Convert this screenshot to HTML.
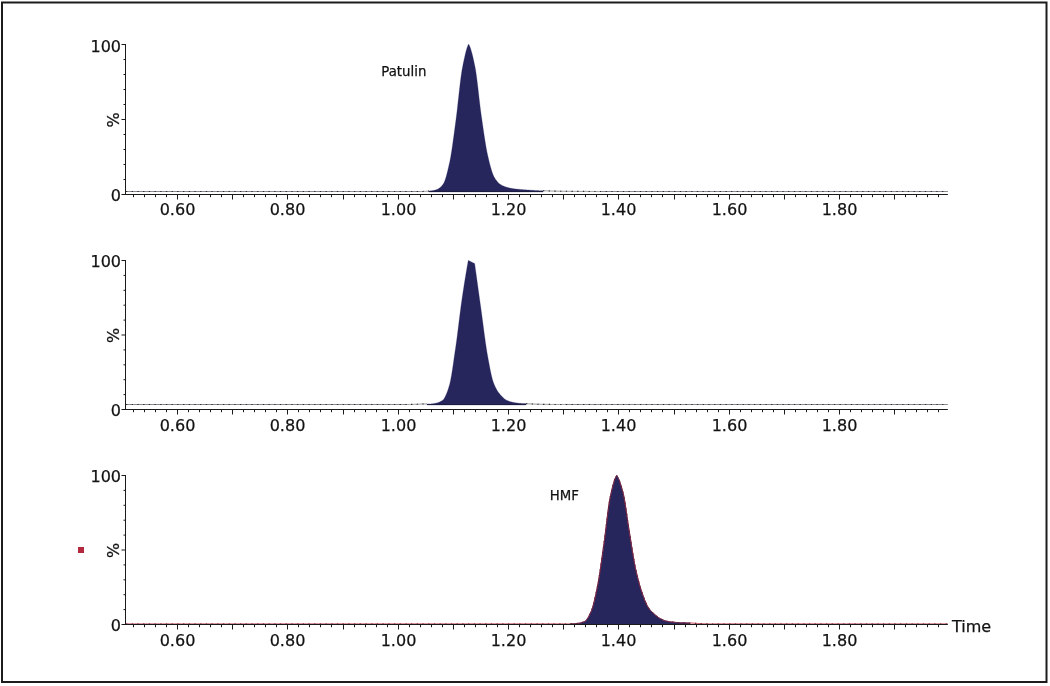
<!DOCTYPE html>
<html><head><meta charset="utf-8"><title>Chromatogram</title>
<style>
html,body{margin:0;padding:0;background:#fff;width:1050px;height:686px;overflow:hidden}
svg{display:block}
text{font-family:"DejaVu Sans","Liberation Sans",sans-serif;fill:#111;stroke:#111;stroke-width:0.25px}
.ax{font-size:16px}
.lb{font-size:13.3px}
</style></head><body>
<svg width="1050" height="686" viewBox="0 0 1050 686">
<rect x="2" y="2.5" width="1044.5" height="679.5" fill="none" stroke="#1c1c1c" stroke-width="2"/>
<polyline points="126,191.5 420,191.49 420.5,191.48 421,191.47 421.5,191.46 422,191.45 422.5,191.44 423,191.43 423.5,191.42 424,191.41 424.5,191.39 425,191.37 425.5,191.35 426,191.32 426.5,191.28 427,191.24 427.5,191.2 428,191.15 428.5,191.1 429,191.04" fill="none" stroke="#8a8a8e" stroke-width="1"/>
<polyline points="126,191.5 420,191.49 420.5,191.48 421,191.47 421.5,191.46 422,191.45 422.5,191.44 423,191.43 423.5,191.42 424,191.41 424.5,191.39 425,191.37 425.5,191.35 426,191.32 426.5,191.28 427,191.24 427.5,191.2 428,191.15 428.5,191.1 429,191.04" fill="none" stroke="#2e2e36" stroke-width="1.1" stroke-dasharray="1.3 4.4"/>
<polyline points="543,190.73 543.5,190.74 544,190.75 544.5,190.77 545,190.78 545.5,190.8 546,190.82 546.5,190.84 547,190.87 547.5,190.89 548,190.92 548.5,190.94 549,190.97 549.5,190.99 550,191.01 550.5,191.03 551,191.05 551.5,191.06 552,191.08 552.5,191.09 553,191.1 553.5,191.11 554,191.12 554.5,191.13 555,191.14 555.5,191.15 556,191.16 556.5,191.17 557,191.18 557.5,191.18 558,191.19 558.5,191.2 559,191.21 559.5,191.22 560,191.22 560.5,191.23 561,191.24 561.5,191.24 562,191.25 562.5,191.26 563,191.26 563.5,191.27 564,191.27 564.5,191.28 565,191.29 565.5,191.29 566,191.3 566.5,191.3 567,191.31 567.5,191.31 568,191.32 568.5,191.32 569,191.33 569.5,191.33 570,191.33 570.5,191.34 571,191.34 571.5,191.35 572,191.35 572.5,191.35 573,191.36 573.5,191.36 574,191.36 574.5,191.37 575,191.37 575.5,191.37 576,191.38 576.5,191.38 577,191.38 577.5,191.39 578,191.39 578.5,191.39 579,191.39 579.5,191.4 580,191.4 580.5,191.4 581,191.4 581.5,191.41 582,191.41 582.5,191.41 583,191.41 583.5,191.41 584,191.42 584.5,191.42 585,191.42 585.5,191.42 586,191.42 586.5,191.43 587,191.43 587.5,191.43 588,191.43 588.5,191.43 589,191.43 589.5,191.44 590,191.44 590.5,191.44 591,191.44 591.5,191.44 592,191.44 592.5,191.44 593,191.45 593.5,191.45 594,191.45 594.5,191.45 595,191.45 595.5,191.45 596,191.45 596.5,191.46 597,191.46 597.5,191.46 598,191.46 598.5,191.46 599,191.46 599.5,191.46 600,191.46 600.5,191.46 601,191.47 601.5,191.47 602,191.5 947.8,191.5" fill="none" stroke="#8a8a8e" stroke-width="1"/>
<polyline points="543,190.73 543.5,190.74 544,190.75 544.5,190.77 545,190.78 545.5,190.8 546,190.82 546.5,190.84 547,190.87 547.5,190.89 548,190.92 548.5,190.94 549,190.97 549.5,190.99 550,191.01 550.5,191.03 551,191.05 551.5,191.06 552,191.08 552.5,191.09 553,191.1 553.5,191.11 554,191.12 554.5,191.13 555,191.14 555.5,191.15 556,191.16 556.5,191.17 557,191.18 557.5,191.18 558,191.19 558.5,191.2 559,191.21 559.5,191.22 560,191.22 560.5,191.23 561,191.24 561.5,191.24 562,191.25 562.5,191.26 563,191.26 563.5,191.27 564,191.27 564.5,191.28 565,191.29 565.5,191.29 566,191.3 566.5,191.3 567,191.31 567.5,191.31 568,191.32 568.5,191.32 569,191.33 569.5,191.33 570,191.33 570.5,191.34 571,191.34 571.5,191.35 572,191.35 572.5,191.35 573,191.36 573.5,191.36 574,191.36 574.5,191.37 575,191.37 575.5,191.37 576,191.38 576.5,191.38 577,191.38 577.5,191.39 578,191.39 578.5,191.39 579,191.39 579.5,191.4 580,191.4 580.5,191.4 581,191.4 581.5,191.41 582,191.41 582.5,191.41 583,191.41 583.5,191.41 584,191.42 584.5,191.42 585,191.42 585.5,191.42 586,191.42 586.5,191.43 587,191.43 587.5,191.43 588,191.43 588.5,191.43 589,191.43 589.5,191.44 590,191.44 590.5,191.44 591,191.44 591.5,191.44 592,191.44 592.5,191.44 593,191.45 593.5,191.45 594,191.45 594.5,191.45 595,191.45 595.5,191.45 596,191.45 596.5,191.46 597,191.46 597.5,191.46 598,191.46 598.5,191.46 599,191.46 599.5,191.46 600,191.46 600.5,191.46 601,191.47 601.5,191.47 602,191.5 947.8,191.5" fill="none" stroke="#2e2e36" stroke-width="1.1" stroke-dasharray="1.3 4.4"/>
<polygon points="429,192 429,191.04 429.5,190.98 430,190.92 430.5,190.86 431,190.8 431.5,190.73 432,190.66 432.5,190.57 433,190.48 433.5,190.39 434,190.28 434.5,190.16 435,190.04 435.5,189.9 436,189.76 436.5,189.6 437,189.43 437.5,189.22 438,188.98 438.5,188.69 439,188.37 439.5,188 440,187.6 440.5,187.15 441,186.67 441.5,186.14 442,185.58 442.5,184.98 443,184.33 443.5,183.61 444,182.69 444.5,181.57 445,180.26 445.5,178.78 446,177.15 446.5,175.39 447,173.51 447.5,171.52 448,169.45 448.5,167.31 449,165.12 449.5,162.89 450,160.54 450.5,157.91 451,155.04 451.5,151.96 452,148.7 452.5,145.28 453,141.73 453.5,138.09 454,134.39 454.5,130.64 455,126.89 455.5,123.15 456,119.46 456.5,115.57 457,111.42 457.5,107.07 458,102.58 458.5,98.03 459,93.49 459.5,89.02 460,84.69 460.5,80.56 461,76.71 461.5,73.2 462,70.1 462.5,67.42 463,64.86 463.5,62.36 464,59.95 464.5,57.63 465,55.43 465.5,53.35 466,51.41 466.5,49.62 467,48 467.5,46.56 468,45.32 468.5,44.28 468.6,44.1 469,44.75 469.5,45.76 470,46.97 470.5,48.37 471,49.93 471.5,51.65 472,53.52 472.5,55.51 473,57.61 473.5,59.81 474,62.1 474.5,64.46 475,66.87 475.5,69.6 476,72.76 476.5,76.3 477,80.14 477.5,84.22 478,88.46 478.5,92.8 479,97.17 479.5,101.5 480,105.72 480.5,109.76 481,113.55 481.5,117.06 482,120.53 482.5,124.01 483,127.48 483.5,130.91 484,134.28 484.5,137.58 485,140.78 485.5,143.85 486,146.78 486.5,149.55 487,152.14 487.5,154.51 488,156.71 488.5,158.85 489,160.95 489.5,162.99 490,164.95 490.5,166.83 491,168.62 491.5,170.29 492,171.86 492.5,173.29 493,174.58 493.5,175.72 494,176.7 494.5,177.57 495,178.4 495.5,179.18 496,179.91 496.5,180.6 497,181.25 497.5,181.85 498,182.4 498.5,182.91 499,183.38 499.5,183.8 500,184.18 500.5,184.51 501,184.82 501.5,185.11 502,185.38 502.5,185.64 503,185.87 503.5,186.1 504,186.3 504.5,186.5 505,186.68 505.5,186.86 506,187.02 506.5,187.17 507,187.32 507.5,187.46 508,187.59 508.5,187.72 509,187.85 509.5,187.96 510,188.07 510.5,188.18 511,188.28 511.5,188.37 512,188.46 512.5,188.54 513,188.62 513.5,188.69 514,188.76 514.5,188.83 515,188.89 515.5,188.94 516,189 516.5,189.05 517,189.1 517.5,189.15 518,189.2 518.5,189.25 519,189.29 519.5,189.34 520,189.39 520.5,189.43 521,189.47 521.5,189.52 522,189.56 522.5,189.6 523,189.64 523.5,189.68 524,189.71 524.5,189.75 525,189.79 525.5,189.82 526,189.86 526.5,189.89 527,189.93 527.5,189.96 528,189.99 528.5,190.03 529,190.06 529.5,190.09 530,190.12 530.5,190.15 531,190.18 531.5,190.21 532,190.24 532.5,190.27 533,190.31 533.5,190.34 534,190.37 534.5,190.4 535,190.44 535.5,190.47 536,190.5 536.5,190.53 537,190.55 537.5,190.58 538,190.6 538.5,190.62 539,190.64 539.5,190.65 540,190.66 540.5,190.68 541,190.69 541.5,190.7 542,190.71 542.5,190.72 543,190.73 543,192" fill="#26255c" stroke="#26255c" stroke-width="0.25" stroke-linejoin="round"/>
<path d="M429,191.5H543" stroke="#1c1b40" stroke-width="1"/>
<path d="M125.5,44.0V195.0M125.5,194.5H947.8" stroke="#1a1a1a" stroke-width="1" fill="none"/>
<path d="M121.5,44.5h4.5M123.5,59.5h2.5M123.5,74.5h2.5M123.5,89.5h2.5M123.5,104.5h2.5M121.5,119.5h4.5M123.5,134.5h2.5M123.5,149.5h2.5M123.5,164.5h2.5M123.5,179.5h2.5M121.5,194.5h4.5" stroke="#1a1a1a" stroke-width="1" fill="none"/>
<path d="M133.5,195v2.2M144.5,195v2.2M155.5,195v2.2M166.5,195v2.2M177.5,195v4.5M188.5,195v2.2M199.5,195v2.2M210.5,195v2.2M221.5,195v2.2M232.5,195v4.5M243.5,195v2.2M254.5,195v2.2M265.5,195v2.2M276.5,195v2.2M287.5,195v4.5M298.5,195v2.2M309.5,195v2.2M320.5,195v2.2M331.5,195v2.2M343.5,195v4.5M354.5,195v2.2M365.5,195v2.2M376.5,195v2.2M387.5,195v2.2M398.5,195v4.5M409.5,195v2.2M420.5,195v2.2M431.5,195v2.2M442.5,195v2.2M453.5,195v4.5M464.5,195v2.2M475.5,195v2.2M486.5,195v2.2M497.5,195v2.2M508.5,195v4.5M519.5,195v2.2M530.5,195v2.2M541.5,195v2.2M552.5,195v2.2M563.5,195v4.5M574.5,195v2.2M585.5,195v2.2M596.5,195v2.2M607.5,195v2.2M618.5,195v4.5M629.5,195v2.2M640.5,195v2.2M651.5,195v2.2M662.5,195v2.2M674.5,195v4.5M685.5,195v2.2M696.5,195v2.2M707.5,195v2.2M718.5,195v2.2M729.5,195v4.5M740.5,195v2.2M751.5,195v2.2M762.5,195v2.2M773.5,195v2.2M784.5,195v4.5M795.5,195v2.2M806.5,195v2.2M817.5,195v2.2M828.5,195v2.2M839.5,195v4.5M850.5,195v2.2M861.5,195v2.2M872.5,195v2.2M883.5,195v2.2M894.5,195v4.5M905.5,195v2.2M916.5,195v2.2M927.5,195v2.2M938.5,195v2.2" stroke="#1a1a1a" stroke-width="1" fill="none"/>
<polyline points="126,404.5 407.5,404.48 408,404.48 408.5,404.47 409,404.46 409.5,404.45 410,404.45 410.5,404.44 411,404.43 411.5,404.42 412,404.41 412.5,404.4 413,404.38 413.5,404.37 414,404.36 414.5,404.34 415,404.32 415.5,404.31 416,404.29 416.5,404.27 417,404.25 417.5,404.23 418,404.21 418.5,404.19 419,404.17 419.5,404.14 420,404.11 420.5,404.08 421,404.06 421.5,404.03 422,404.01 422.5,403.99 423,403.97 423.5,403.96 424,403.95 424.5,403.95 425,403.94 425.5,403.94 426,403.94 426.5,403.94 427,403.93" fill="none" stroke="#8a8a8e" stroke-width="1"/>
<polyline points="126,404.5 407.5,404.48 408,404.48 408.5,404.47 409,404.46 409.5,404.45 410,404.45 410.5,404.44 411,404.43 411.5,404.42 412,404.41 412.5,404.4 413,404.38 413.5,404.37 414,404.36 414.5,404.34 415,404.32 415.5,404.31 416,404.29 416.5,404.27 417,404.25 417.5,404.23 418,404.21 418.5,404.19 419,404.17 419.5,404.14 420,404.11 420.5,404.08 421,404.06 421.5,404.03 422,404.01 422.5,403.99 423,403.97 423.5,403.96 424,403.95 424.5,403.95 425,403.94 425.5,403.94 426,403.94 426.5,403.94 427,403.93" fill="none" stroke="#2e2e36" stroke-width="1.1" stroke-dasharray="1.3 4.4"/>
<polyline points="526,403.65 526.5,403.68 527,403.71 527.5,403.74 528,403.77 528.5,403.8 529,403.83 529.5,403.86 530,403.89 530.5,403.91 531,403.94 531.5,403.96 532,403.99 532.5,404.01 533,404.03 533.5,404.05 534,404.07 534.5,404.09 535,404.11 535.5,404.13 536,404.15 536.5,404.17 537,404.19 537.5,404.2 538,404.22 538.5,404.23 539,404.24 539.5,404.26 540,404.27 540.5,404.28 541,404.29 541.5,404.3 542,404.31 542.5,404.32 543,404.33 543.5,404.34 544,404.35 544.5,404.36 545,404.37 545.5,404.37 546,404.38 546.5,404.39 547,404.39 547.5,404.4 548,404.4 548.5,404.41 549,404.41 549.5,404.42 550,404.42 550.5,404.43 551,404.43 551.5,404.43 552,404.44 552.5,404.44 553,404.44 553.5,404.45 554,404.45 554.5,404.45 555,404.45 555.5,404.46 556,404.46 556.5,404.46 557,404.46 557.5,404.46 558,404.46 558.5,404.47 559,404.47 559.5,404.47 560,404.47 560.5,404.47 561,404.47 561.5,404.47 562,404.47 562.5,404.48 563,404.48 563.5,404.48 564,404.48 564.5,404.48 565,404.48 947.8,404.5" fill="none" stroke="#8a8a8e" stroke-width="1"/>
<polyline points="526,403.65 526.5,403.68 527,403.71 527.5,403.74 528,403.77 528.5,403.8 529,403.83 529.5,403.86 530,403.89 530.5,403.91 531,403.94 531.5,403.96 532,403.99 532.5,404.01 533,404.03 533.5,404.05 534,404.07 534.5,404.09 535,404.11 535.5,404.13 536,404.15 536.5,404.17 537,404.19 537.5,404.2 538,404.22 538.5,404.23 539,404.24 539.5,404.26 540,404.27 540.5,404.28 541,404.29 541.5,404.3 542,404.31 542.5,404.32 543,404.33 543.5,404.34 544,404.35 544.5,404.36 545,404.37 545.5,404.37 546,404.38 546.5,404.39 547,404.39 547.5,404.4 548,404.4 548.5,404.41 549,404.41 549.5,404.42 550,404.42 550.5,404.43 551,404.43 551.5,404.43 552,404.44 552.5,404.44 553,404.44 553.5,404.45 554,404.45 554.5,404.45 555,404.45 555.5,404.46 556,404.46 556.5,404.46 557,404.46 557.5,404.46 558,404.46 558.5,404.47 559,404.47 559.5,404.47 560,404.47 560.5,404.47 561,404.47 561.5,404.47 562,404.47 562.5,404.48 563,404.48 563.5,404.48 564,404.48 564.5,404.48 565,404.48 947.8,404.5" fill="none" stroke="#2e2e36" stroke-width="1.1" stroke-dasharray="1.3 4.4"/>
<polygon points="427,405 427,403.93 427.5,403.93 428,403.93 428.5,403.93 429,403.92 429.5,403.92 430,403.91 430.5,403.9 431,403.88 431.5,403.85 432,403.8 432.5,403.75 433,403.68 433.5,403.6 434,403.52 434.5,403.43 435,403.33 435.5,403.23 436,403.13 436.5,403.02 437,402.9 437.5,402.77 438,402.62 438.5,402.45 439,402.25 439.5,402.04 440,401.81 440.5,401.55 441,401.27 441.5,400.96 442,400.63 442.5,400.27 443,399.88 443.5,399.38 444,398.75 444.5,397.99 445,397.1 445.5,396.1 446,395 446.5,393.8 447,392.51 447.5,391.13 448,389.68 448.5,388.16 449,386.59 449.5,384.92 450,382.94 450.5,380.65 451,378.07 451.5,375.25 452,372.22 452.5,369.03 453,365.7 453.5,362.29 454,358.81 454.5,355.32 455,351.85 455.5,348.44 456,345.01 456.5,341.42 457,337.67 457.5,333.8 458,329.85 458.5,325.84 459,321.81 459.5,317.79 460,313.82 460.5,309.92 461,306.12 461.5,302.47 462,298.99 462.5,295.61 463,292.29 463.5,289.01 464,285.78 464.5,282.6 465,279.48 465.5,276.41 466,273.39 466.5,270.44 467,267.54 467.5,264.71 468,261.93 468.3,260.3 468.5,260.4 469,260.65 469.5,260.9 470,261.16 470.5,261.41 471,261.66 471.5,261.91 472,262.16 472.5,262.42 473,262.67 473.5,262.92 474,263.17 474.5,263.42 474.65,263.5 475,266.03 475.5,269.64 476,273.24 476.5,276.85 477,280.45 477.5,284.05 478,287.64 478.5,291.23 479,294.82 479.5,298.41 480,302 480.5,305.58 481,309.16 481.5,312.79 482,316.51 482.5,320.29 483,324.11 483.5,327.93 484,331.72 484.5,335.46 485,339.12 485.5,342.67 486,346.09 486.5,349.33 487,352.38 487.5,355.22 488,357.99 488.5,360.74 489,363.45 489.5,366.1 490,368.67 490.5,371.14 491,373.49 491.5,375.7 492,377.76 492.5,379.64 493,381.32 493.5,382.79 494,384.06 494.5,385.24 495,386.34 495.5,387.38 496,388.35 496.5,389.27 497,390.13 497.5,390.93 498,391.69 498.5,392.41 499,393.09 499.5,393.73 500,394.34 500.5,394.93 501,395.5 501.5,396.06 502,396.59 502.5,397.11 503,397.6 503.5,398.06 504,398.49 504.5,398.9 505,399.27 505.5,399.6 506,399.9 506.5,400.16 507,400.4 507.5,400.62 508,400.83 508.5,401.03 509,401.21 509.5,401.39 510,401.55 510.5,401.7 511,401.84 511.5,401.97 512,402.1 512.5,402.21 513,402.32 513.5,402.42 514,402.51 514.5,402.61 515,402.69 515.5,402.78 516,402.86 516.5,402.93 517,403 517.5,403.06 518,403.12 518.5,403.18 519,403.22 519.5,403.27 520,403.3 520.5,403.34 521,403.37 521.5,403.4 522,403.43 522.5,403.46 523,403.49 523.5,403.51 524,403.54 524.5,403.57 525,403.59 525.5,403.62 526,403.65 526,405" fill="#26255c" stroke="#26255c" stroke-width="0.25" stroke-linejoin="round"/>
<path d="M427,404.5H526" stroke="#1c1b40" stroke-width="1"/>
<path d="M125.5,260.0V410.0M125.5,409.5H947.8" stroke="#1a1a1a" stroke-width="1" fill="none"/>
<path d="M121.5,260.5h4.5M123.5,275.4h2.5M123.5,290.3h2.5M123.5,305.2h2.5M123.5,320.1h2.5M121.5,335h4.5M123.5,349.9h2.5M123.5,364.8h2.5M123.5,379.7h2.5M123.5,394.6h2.5M121.5,409.5h4.5" stroke="#1a1a1a" stroke-width="1" fill="none"/>
<path d="M133.5,410v2.2M144.5,410v2.2M155.5,410v2.2M166.5,410v2.2M177.5,410v4.5M188.5,410v2.2M199.5,410v2.2M210.5,410v2.2M221.5,410v2.2M232.5,410v4.5M243.5,410v2.2M254.5,410v2.2M265.5,410v2.2M276.5,410v2.2M287.5,410v4.5M298.5,410v2.2M309.5,410v2.2M320.5,410v2.2M331.5,410v2.2M343.5,410v4.5M354.5,410v2.2M365.5,410v2.2M376.5,410v2.2M387.5,410v2.2M398.5,410v4.5M409.5,410v2.2M420.5,410v2.2M431.5,410v2.2M442.5,410v2.2M453.5,410v4.5M464.5,410v2.2M475.5,410v2.2M486.5,410v2.2M497.5,410v2.2M508.5,410v4.5M519.5,410v2.2M530.5,410v2.2M541.5,410v2.2M552.5,410v2.2M563.5,410v4.5M574.5,410v2.2M585.5,410v2.2M596.5,410v2.2M607.5,410v2.2M618.5,410v4.5M629.5,410v2.2M640.5,410v2.2M651.5,410v2.2M662.5,410v2.2M674.5,410v4.5M685.5,410v2.2M696.5,410v2.2M707.5,410v2.2M718.5,410v2.2M729.5,410v4.5M740.5,410v2.2M751.5,410v2.2M762.5,410v2.2M773.5,410v2.2M784.5,410v4.5M795.5,410v2.2M806.5,410v2.2M817.5,410v2.2M828.5,410v2.2M839.5,410v4.5M850.5,410v2.2M861.5,410v2.2M872.5,410v2.2M883.5,410v2.2M894.5,410v4.5M905.5,410v2.2M916.5,410v2.2M927.5,410v2.2M938.5,410v2.2" stroke="#1a1a1a" stroke-width="1" fill="none"/>
<polygon points="570,624.5 570,623.88 570.5,623.86 571,623.84 571.5,623.82 572,623.8 572.5,623.78 573,623.75 573.5,623.72 574,623.69 574.5,623.65 575,623.62 575.5,623.57 576,623.53 576.5,623.48 577,623.43 577.5,623.37 578,623.31 578.5,623.24 579,623.17 579.5,623.09 580,623 580.5,622.89 581,622.78 581.5,622.65 582,622.5 582.5,622.34 583,622.17 583.5,621.98 584,621.77 584.5,621.55 585,621.3 585.5,620.96 586,620.51 586.5,619.96 587,619.31 587.5,618.58 588,617.77 588.5,616.9 589,615.95 589.5,614.96 590,613.91 590.5,612.83 591,611.71 591.5,610.54 592,609.2 592.5,607.69 593,606.02 593.5,604.21 594,602.27 594.5,600.21 595,598.05 595.5,595.81 596,593.48 596.5,591.09 597,588.66 597.5,586.19 598,583.62 598.5,580.84 599,577.88 599.5,574.77 600,571.52 600.5,568.15 601,564.7 601.5,561.18 602,557.61 602.5,554.03 603,550.45 603.5,546.89 604,543.38 604.5,539.71 605,535.82 605.5,531.78 606,527.64 606.5,523.47 607,519.32 607.5,515.26 608,511.33 608.5,507.61 609,504.15 609.5,501.01 610,498.24 610.5,495.87 611,493.59 611.5,491.37 612,489.23 612.5,487.18 613,485.23 613.5,483.4 614,481.7 614.5,480.14 615,478.74 615.5,477.52 616,476.48 616.5,475.64 616.6,475.5 617,475.93 617.5,476.62 618,477.49 618.5,478.51 619,479.68 619.5,480.97 620,482.39 620.5,483.91 621,485.52 621.5,487.21 622,488.97 622.5,490.78 623,492.63 623.5,494.73 624,497.16 624.5,499.89 625,502.87 625.5,506.05 626,509.38 626.5,512.81 627,516.3 627.5,519.79 628,523.25 628.5,526.61 629,529.83 629.5,532.89 630,535.98 630.5,539.12 631,542.29 631.5,545.46 632,548.63 632.5,551.75 633,554.82 633.5,557.8 634,560.68 634.5,563.43 635,566.03 635.5,568.45 636,570.72 636.5,572.9 637,575.02 637.5,577.07 638,579.05 638.5,580.97 639,582.82 639.5,584.61 640,586.33 640.5,587.99 641,589.58 641.5,591.12 642,592.59 642.5,594.02 643,595.44 643.5,596.84 644,598.2 644.5,599.52 645,600.79 645.5,602.02 646,603.18 646.5,604.28 647,605.3 647.5,606.24 648,607.09 648.5,607.85 649,608.56 649.5,609.22 650,609.84 650.5,610.43 651,610.98 651.5,611.51 652,612.01 652.5,612.49 653,612.96 653.5,613.41 654,613.85 654.5,614.28 655,614.71 655.5,615.14 656,615.56 656.5,615.97 657,616.37 657.5,616.76 658,617.14 658.5,617.5 659,617.84 659.5,618.16 660,618.47 660.5,618.75 661,619.01 661.5,619.25 662,619.49 662.5,619.72 663,619.94 663.5,620.15 664,620.35 664.5,620.54 665,620.72 665.5,620.89 666,621.04 666.5,621.18 667,621.3 667.5,621.4 668,621.49 668.5,621.57 669,621.65 669.5,621.73 670,621.79 670.5,621.86 671,621.92 671.5,621.97 672,622.03 672.5,622.08 673,622.13 673.5,622.18 674,622.23 674.5,622.28 675,622.34 675.5,622.39 676,622.44 676.5,622.48 677,622.53 677.5,622.57 678,622.61 678.5,622.65 679,622.68 679.5,622.71 680,622.73 680.5,622.75 681,622.76 681.5,622.78 682,622.79 682.5,622.8 683,622.81 683.5,622.82 684,622.83 684.5,622.84 685,622.85 685.5,622.86 686,622.87 686.5,622.89 687,622.9 687.5,622.92 688,622.93 688.5,622.95 689,622.97 689.5,622.99 690,623.01 690,624.5" fill="#26255c" stroke="#26255c" stroke-width="0.25" stroke-linejoin="round"/>
<polyline points="126,624 565.5,623.98 566,623.98 566.5,623.97 567,623.97 567.5,623.96 568,623.94 568.5,623.93 569,623.92 569.5,623.9 570,623.88 570.5,623.86 571,623.84 571.5,623.82 572,623.8 572.5,623.78 573,623.75 573.5,623.72 574,623.69 574.5,623.65 575,623.62 575.5,623.57 576,623.53 576.5,623.48 577,623.43 577.5,623.37 578,623.31 578.5,623.24 579,623.17 579.5,623.09 580,623 580.5,622.89 581,622.78 581.5,622.65 582,622.5 582.5,622.34 583,622.17 583.5,621.98 584,621.77 584.5,621.55 585,621.3 585.5,620.96 586,620.51 586.5,619.96 587,619.31 587.5,618.58 588,617.77 588.5,616.9 589,615.95 589.5,614.96 590,613.91 590.5,612.83 591,611.71 591.5,610.54 592,609.2 592.5,607.69 593,606.02 593.5,604.21 594,602.27 594.5,600.21 595,598.05 595.5,595.81 596,593.48 596.5,591.09 597,588.66 597.5,586.19 598,583.62 598.5,580.84 599,577.88 599.5,574.77 600,571.52 600.5,568.15 601,564.7 601.5,561.18 602,557.61 602.5,554.03 603,550.45 603.5,546.89 604,543.38 604.5,539.71 605,535.82 605.5,531.78 606,527.64 606.5,523.47 607,519.32 607.5,515.26 608,511.33 608.5,507.61 609,504.15 609.5,501.01 610,498.24 610.5,495.87 611,493.59 611.5,491.37 612,489.23 612.5,487.18 613,485.23 613.5,483.4 614,481.7 614.5,480.14 615,478.74 615.5,477.52 616,476.48 616.5,475.64 616.6,475.5 617,475.93 617.5,476.62 618,477.49 618.5,478.51 619,479.68 619.5,480.97 620,482.39 620.5,483.91 621,485.52 621.5,487.21 622,488.97 622.5,490.78 623,492.63 623.5,494.73 624,497.16 624.5,499.89 625,502.87 625.5,506.05 626,509.38 626.5,512.81 627,516.3 627.5,519.79 628,523.25 628.5,526.61 629,529.83 629.5,532.89 630,535.98 630.5,539.12 631,542.29 631.5,545.46 632,548.63 632.5,551.75 633,554.82 633.5,557.8 634,560.68 634.5,563.43 635,566.03 635.5,568.45 636,570.72 636.5,572.9 637,575.02 637.5,577.07 638,579.05 638.5,580.97 639,582.82 639.5,584.61 640,586.33 640.5,587.99 641,589.58 641.5,591.12 642,592.59 642.5,594.02 643,595.44 643.5,596.84 644,598.2 644.5,599.52 645,600.79 645.5,602.02 646,603.18 646.5,604.28 647,605.3 647.5,606.24 648,607.09 648.5,607.85 649,608.56 649.5,609.22 650,609.84 650.5,610.43 651,610.98 651.5,611.51 652,612.01 652.5,612.49 653,612.96 653.5,613.41 654,613.85 654.5,614.28 655,614.71 655.5,615.14 656,615.56 656.5,615.97 657,616.37 657.5,616.76 658,617.14 658.5,617.5 659,617.84 659.5,618.16 660,618.47 660.5,618.75 661,619.01 661.5,619.25 662,619.49 662.5,619.72 663,619.94 663.5,620.15 664,620.35 664.5,620.54 665,620.72 665.5,620.89 666,621.04 666.5,621.18 667,621.3 667.5,621.4 668,621.49 668.5,621.57 669,621.65 669.5,621.73 670,621.79 670.5,621.86 671,621.92 671.5,621.97 672,622.03 672.5,622.08 673,622.13 673.5,622.18 674,622.23 674.5,622.28 675,622.34 675.5,622.39 676,622.44 676.5,622.48 677,622.53 677.5,622.57 678,622.61 678.5,622.65 679,622.68 679.5,622.71 680,622.73 680.5,622.75 681,622.76 681.5,622.78 682,622.79 682.5,622.8 683,622.81 683.5,622.82 684,622.83 684.5,622.84 685,622.85 685.5,622.86 686,622.87 686.5,622.89 687,622.9 687.5,622.92 688,622.93 688.5,622.95 689,622.97 689.5,622.99 690,623.01 690.5,623.03 691,623.05 691.5,623.07 692,623.09 692.5,623.12 693,623.14 693.5,623.17 694,623.2 694.5,623.23 695,623.27 695.5,623.31 696,623.34 696.5,623.38 697,623.42 697.5,623.46 698,623.49 698.5,623.52 699,623.55 699.5,623.58 700,623.6 700.5,623.63 701,623.66 701.5,623.68 702,623.7 702.5,623.73 703,623.75 703.5,623.77 704,623.79 704.5,623.81 705,623.82 705.5,623.84 706,623.85 706.5,623.86 707,623.88 707.5,623.89 708,623.9 708.5,623.91 709,623.92 709.5,623.93 710,623.94 710.5,623.95 711,623.95 711.5,623.96 712,623.96 712.5,623.97 713,623.97 713.5,623.98 714,623.98 947.8,624" fill="none" stroke="#b83048" stroke-width="1" stroke-linejoin="round"/>
<polyline points="126,624 565.5,623.98 566,623.98 566.5,623.97 567,623.97 567.5,623.96 568,623.94 568.5,623.93 569,623.92 569.5,623.9 570,623.88 570.5,623.86 571,623.84 571.5,623.82 572,623.8 572.5,623.78 573,623.75 573.5,623.72 574,623.69 574.5,623.65 575,623.62 575.5,623.57 576,623.53 576.5,623.48 577,623.43 577.5,623.37 578,623.31 578.5,623.24 579,623.17 579.5,623.09 580,623 580.5,622.89 581,622.78 581.5,622.65 582,622.5 582.5,622.34 583,622.17 583.5,621.98 584,621.77 584.5,621.55 585,621.3 585.5,620.96 586,620.51 586.5,619.96 587,619.31 587.5,618.58 588,617.77 588.5,616.9 589,615.95 589.5,614.96 590,613.91 590.5,612.83 591,611.71 591.5,610.54 592,609.2 592.5,607.69 593,606.02 593.5,604.21 594,602.27 594.5,600.21 595,598.05 595.5,595.81 596,593.48 596.5,591.09 597,588.66 597.5,586.19 598,583.62 598.5,580.84 599,577.88 599.5,574.77 600,571.52 600.5,568.15 601,564.7 601.5,561.18 602,557.61 602.5,554.03 603,550.45 603.5,546.89 604,543.38 604.5,539.71 605,535.82 605.5,531.78 606,527.64 606.5,523.47 607,519.32 607.5,515.26 608,511.33 608.5,507.61 609,504.15 609.5,501.01 610,498.24 610.5,495.87 611,493.59 611.5,491.37 612,489.23 612.5,487.18 613,485.23 613.5,483.4 614,481.7 614.5,480.14 615,478.74 615.5,477.52 616,476.48 616.5,475.64 616.6,475.5 617,475.93 617.5,476.62 618,477.49 618.5,478.51 619,479.68 619.5,480.97 620,482.39 620.5,483.91 621,485.52 621.5,487.21 622,488.97 622.5,490.78 623,492.63 623.5,494.73 624,497.16 624.5,499.89 625,502.87 625.5,506.05 626,509.38 626.5,512.81 627,516.3 627.5,519.79 628,523.25 628.5,526.61 629,529.83 629.5,532.89 630,535.98 630.5,539.12 631,542.29 631.5,545.46 632,548.63 632.5,551.75 633,554.82 633.5,557.8 634,560.68 634.5,563.43 635,566.03 635.5,568.45 636,570.72 636.5,572.9 637,575.02 637.5,577.07 638,579.05 638.5,580.97 639,582.82 639.5,584.61 640,586.33 640.5,587.99 641,589.58 641.5,591.12 642,592.59 642.5,594.02 643,595.44 643.5,596.84 644,598.2 644.5,599.52 645,600.79 645.5,602.02 646,603.18 646.5,604.28 647,605.3 647.5,606.24 648,607.09 648.5,607.85 649,608.56 649.5,609.22 650,609.84 650.5,610.43 651,610.98 651.5,611.51 652,612.01 652.5,612.49 653,612.96 653.5,613.41 654,613.85 654.5,614.28 655,614.71 655.5,615.14 656,615.56 656.5,615.97 657,616.37 657.5,616.76 658,617.14 658.5,617.5 659,617.84 659.5,618.16 660,618.47 660.5,618.75 661,619.01 661.5,619.25 662,619.49 662.5,619.72 663,619.94 663.5,620.15 664,620.35 664.5,620.54 665,620.72 665.5,620.89 666,621.04 666.5,621.18 667,621.3 667.5,621.4 668,621.49 668.5,621.57 669,621.65 669.5,621.73 670,621.79 670.5,621.86 671,621.92 671.5,621.97 672,622.03 672.5,622.08 673,622.13 673.5,622.18 674,622.23 674.5,622.28 675,622.34 675.5,622.39 676,622.44 676.5,622.48 677,622.53 677.5,622.57 678,622.61 678.5,622.65 679,622.68 679.5,622.71 680,622.73 680.5,622.75 681,622.76 681.5,622.78 682,622.79 682.5,622.8 683,622.81 683.5,622.82 684,622.83 684.5,622.84 685,622.85 685.5,622.86 686,622.87 686.5,622.89 687,622.9 687.5,622.92 688,622.93 688.5,622.95 689,622.97 689.5,622.99 690,623.01 690.5,623.03 691,623.05 691.5,623.07 692,623.09 692.5,623.12 693,623.14 693.5,623.17 694,623.2 694.5,623.23 695,623.27 695.5,623.31 696,623.34 696.5,623.38 697,623.42 697.5,623.46 698,623.49 698.5,623.52 699,623.55 699.5,623.58 700,623.6 700.5,623.63 701,623.66 701.5,623.68 702,623.7 702.5,623.73 703,623.75 703.5,623.77 704,623.79 704.5,623.81 705,623.82 705.5,623.84 706,623.85 706.5,623.86 707,623.88 707.5,623.89 708,623.9 708.5,623.91 709,623.92 709.5,623.93 710,623.94 710.5,623.95 711,623.95 711.5,623.96 712,623.96 712.5,623.97 713,623.97 713.5,623.98 714,623.98 947.8,624" fill="none" stroke="#6a2030" stroke-width="1.1" stroke-linejoin="round" stroke-dasharray="1.3 4.4"/>
<polyline points="570,623.88 570.5,623.86 571,623.84 571.5,623.82 572,623.8 572.5,623.78 573,623.75 573.5,623.72 574,623.69 574.5,623.65 575,623.62 575.5,623.57 576,623.53 576.5,623.48 577,623.43 577.5,623.37 578,623.31 578.5,623.24 579,623.17 579.5,623.09 580,623 580.5,622.89 581,622.78 581.5,622.65 582,622.5 582.5,622.34 583,622.17 583.5,621.98 584,621.77 584.5,621.55 585,621.3 585.5,620.96 586,620.51 586.5,619.96 587,619.31 587.5,618.58 588,617.77 588.5,616.9 589,615.95 589.5,614.96 590,613.91 590.5,612.83 591,611.71 591.5,610.54 592,609.2 592.5,607.69 593,606.02 593.5,604.21 594,602.27 594.5,600.21 595,598.05 595.5,595.81 596,593.48 596.5,591.09 597,588.66 597.5,586.19 598,583.62 598.5,580.84 599,577.88 599.5,574.77 600,571.52 600.5,568.15 601,564.7 601.5,561.18 602,557.61 602.5,554.03 603,550.45 603.5,546.89 604,543.38 604.5,539.71 605,535.82 605.5,531.78 606,527.64 606.5,523.47 607,519.32 607.5,515.26 608,511.33 608.5,507.61 609,504.15 609.5,501.01 610,498.24 610.5,495.87 611,493.59 611.5,491.37 612,489.23 612.5,487.18 613,485.23 613.5,483.4 614,481.7 614.5,480.14 615,478.74 615.5,477.52 616,476.48 616.5,475.64 616.6,475.5 617,475.93 617.5,476.62 618,477.49 618.5,478.51 619,479.68 619.5,480.97 620,482.39 620.5,483.91 621,485.52 621.5,487.21 622,488.97 622.5,490.78 623,492.63 623.5,494.73 624,497.16 624.5,499.89 625,502.87 625.5,506.05 626,509.38 626.5,512.81 627,516.3 627.5,519.79 628,523.25 628.5,526.61 629,529.83 629.5,532.89 630,535.98 630.5,539.12 631,542.29 631.5,545.46 632,548.63 632.5,551.75 633,554.82 633.5,557.8 634,560.68 634.5,563.43 635,566.03 635.5,568.45 636,570.72 636.5,572.9 637,575.02 637.5,577.07 638,579.05 638.5,580.97 639,582.82 639.5,584.61 640,586.33 640.5,587.99 641,589.58 641.5,591.12 642,592.59 642.5,594.02 643,595.44 643.5,596.84 644,598.2 644.5,599.52 645,600.79 645.5,602.02 646,603.18 646.5,604.28 647,605.3 647.5,606.24 648,607.09 648.5,607.85 649,608.56 649.5,609.22 650,609.84 650.5,610.43 651,610.98 651.5,611.51 652,612.01 652.5,612.49 653,612.96 653.5,613.41 654,613.85 654.5,614.28 655,614.71 655.5,615.14 656,615.56 656.5,615.97 657,616.37 657.5,616.76 658,617.14 658.5,617.5 659,617.84 659.5,618.16 660,618.47 660.5,618.75 661,619.01 661.5,619.25 662,619.49 662.5,619.72 663,619.94 663.5,620.15 664,620.35 664.5,620.54 665,620.72 665.5,620.89 666,621.04 666.5,621.18 667,621.3 667.5,621.4 668,621.49 668.5,621.57 669,621.65 669.5,621.73 670,621.79 670.5,621.86 671,621.92 671.5,621.97 672,622.03 672.5,622.08 673,622.13 673.5,622.18 674,622.23 674.5,622.28 675,622.34 675.5,622.39 676,622.44 676.5,622.48 677,622.53 677.5,622.57 678,622.61 678.5,622.65 679,622.68 679.5,622.71 680,622.73 680.5,622.75 681,622.76 681.5,622.78 682,622.79 682.5,622.8 683,622.81 683.5,622.82 684,622.83 684.5,622.84 685,622.85 685.5,622.86 686,622.87 686.5,622.89 687,622.9 687.5,622.92 688,622.93 688.5,622.95 689,622.97 689.5,622.99 690,623.01" fill="none" stroke="#3a1f45" stroke-width="1" stroke-linejoin="round" stroke-opacity="0.55"/>
<path d="M125.5,475.0V625.0M125.5,624.5H947.8" stroke="#1a1a1a" stroke-width="1" fill="none"/>
<path d="M121.5,475.5h4.5M123.5,490.4h2.5M123.5,505.3h2.5M123.5,520.2h2.5M123.5,535.1h2.5M121.5,550h4.5M123.5,564.9h2.5M123.5,579.8h2.5M123.5,594.7h2.5M123.5,609.6h2.5M121.5,624.5h4.5" stroke="#1a1a1a" stroke-width="1" fill="none"/>
<path d="M133.5,625v2.2M144.5,625v2.2M155.5,625v2.2M166.5,625v2.2M177.5,625v4.5M188.5,625v2.2M199.5,625v2.2M210.5,625v2.2M221.5,625v2.2M232.5,625v4.5M243.5,625v2.2M254.5,625v2.2M265.5,625v2.2M276.5,625v2.2M287.5,625v4.5M298.5,625v2.2M309.5,625v2.2M320.5,625v2.2M331.5,625v2.2M343.5,625v4.5M354.5,625v2.2M365.5,625v2.2M376.5,625v2.2M387.5,625v2.2M398.5,625v4.5M409.5,625v2.2M420.5,625v2.2M431.5,625v2.2M442.5,625v2.2M453.5,625v4.5M464.5,625v2.2M475.5,625v2.2M486.5,625v2.2M497.5,625v2.2M508.5,625v4.5M519.5,625v2.2M530.5,625v2.2M541.5,625v2.2M552.5,625v2.2M563.5,625v4.5M574.5,625v2.2M585.5,625v2.2M596.5,625v2.2M607.5,625v2.2M618.5,625v4.5M629.5,625v2.2M640.5,625v2.2M651.5,625v2.2M662.5,625v2.2M674.5,625v4.5M685.5,625v2.2M696.5,625v2.2M707.5,625v2.2M718.5,625v2.2M729.5,625v4.5M740.5,625v2.2M751.5,625v2.2M762.5,625v2.2M773.5,625v2.2M784.5,625v4.5M795.5,625v2.2M806.5,625v2.2M817.5,625v2.2M828.5,625v2.2M839.5,625v4.5M850.5,625v2.2M861.5,625v2.2M872.5,625v2.2M883.5,625v2.2M894.5,625v4.5M905.5,625v2.2M916.5,625v2.2M927.5,625v2.2M938.5,625v2.2" stroke="#1a1a1a" stroke-width="1" fill="none"/>
<rect x="78" y="547" width="6" height="6" fill="#b3283c"/>
<g opacity="0.995">
<text x="177.5" y="215" text-anchor="middle" class="ax">0.60</text>
<text x="287.5" y="215" text-anchor="middle" class="ax">0.80</text>
<text x="398.5" y="215" text-anchor="middle" class="ax">1.00</text>
<text x="508.5" y="215" text-anchor="middle" class="ax">1.20</text>
<text x="618.5" y="215" text-anchor="middle" class="ax">1.40</text>
<text x="729.5" y="215" text-anchor="middle" class="ax">1.60</text>
<text x="839.5" y="215" text-anchor="middle" class="ax">1.80</text>
<text x="121" y="51.5" text-anchor="end" class="ax">100</text>
<text x="121" y="201" text-anchor="end" class="ax">0</text>
<text transform="translate(119.3,120) rotate(-90)" text-anchor="middle" class="ax">%</text>
<text x="381.3" y="75.7" class="lb">Patulin</text>
<text x="177.5" y="430.7" text-anchor="middle" class="ax">0.60</text>
<text x="287.5" y="430.7" text-anchor="middle" class="ax">0.80</text>
<text x="398.5" y="430.7" text-anchor="middle" class="ax">1.00</text>
<text x="508.5" y="430.7" text-anchor="middle" class="ax">1.20</text>
<text x="618.5" y="430.7" text-anchor="middle" class="ax">1.40</text>
<text x="729.5" y="430.7" text-anchor="middle" class="ax">1.60</text>
<text x="839.5" y="430.7" text-anchor="middle" class="ax">1.80</text>
<text x="121" y="266.5" text-anchor="end" class="ax">100</text>
<text x="121" y="416" text-anchor="end" class="ax">0</text>
<text transform="translate(119.3,335.5) rotate(-90)" text-anchor="middle" class="ax">%</text>
<text x="177.5" y="645.7" text-anchor="middle" class="ax">0.60</text>
<text x="287.5" y="645.7" text-anchor="middle" class="ax">0.80</text>
<text x="398.5" y="645.7" text-anchor="middle" class="ax">1.00</text>
<text x="508.5" y="645.7" text-anchor="middle" class="ax">1.20</text>
<text x="618.5" y="645.7" text-anchor="middle" class="ax">1.40</text>
<text x="729.5" y="645.7" text-anchor="middle" class="ax">1.60</text>
<text x="839.5" y="645.7" text-anchor="middle" class="ax">1.80</text>
<text x="121" y="481.5" text-anchor="end" class="ax">100</text>
<text x="121" y="631" text-anchor="end" class="ax">0</text>
<text transform="translate(119.3,550.5) rotate(-90)" text-anchor="middle" class="ax">%</text>
<text x="549.8" y="499.6" class="lb">HMF</text>
<text x="952" y="631.8" class="ax">Time</text>
</g>
</svg>
</body></html>
